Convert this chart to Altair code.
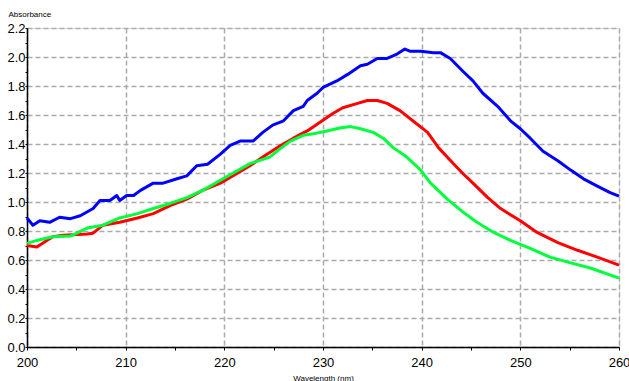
import altair as alt
import pandas as pd

blue_wl = [200.0, 200.6, 201.3, 202.3, 203.3, 204.4, 205.4, 206.7, 207.4, 208.4, 209.1, 209.4, 210.1, 210.8,
           211.5, 212.8, 213.8, 215.2, 216.2, 217.2, 218.3, 219.6, 220.6, 221.6, 222.9, 223.9, 224.9, 226.0,
           227.0, 228.0, 228.4, 229.4, 230.0, 231.4, 232.5, 233.8, 234.5, 235.5, 236.5, 237.5, 238.3, 238.8,
           239.9, 241.2, 241.9, 242.9, 244.2, 245.2, 246.2, 247.7, 249.0, 250.0, 251.0, 252.3, 253.8, 255.1,
           256.4, 257.8, 259.1, 260.0]
blue_abs = [0.89, 0.84, 0.87, 0.86, 0.895, 0.885, 0.905, 0.955, 1.01, 1.01, 1.045, 1.01, 1.045, 1.045,
            1.08, 1.13, 1.13, 1.16, 1.18, 1.25, 1.26, 1.33, 1.39, 1.42, 1.42, 1.48, 1.53, 1.56,
            1.63, 1.66, 1.70, 1.75, 1.79, 1.835, 1.88, 1.94, 1.95, 1.99, 1.99, 2.02, 2.055, 2.04,
            2.04, 2.03, 2.03, 1.99, 1.90, 1.835, 1.75, 1.66, 1.56, 1.505, 1.44, 1.35, 1.285, 1.22,
            1.16, 1.11, 1.065, 1.04]

red_wl = [200.0, 201.0, 202.6, 203.7, 206.1, 206.7, 207.7, 209.4, 211.2, 212.8, 214.5, 216.2, 217.8, 219.6,
          222.6, 223.9, 225.7, 227.0, 228.4, 229.7, 231.0, 232.0, 233.5, 234.5, 235.5, 236.5, 237.8, 239.1,
          240.6, 241.7, 243.2, 244.2, 245.2, 246.7, 248.0, 250.0, 251.7, 253.8, 255.8, 257.8, 260.0]
red_abs = [0.70, 0.69, 0.76, 0.77, 0.78, 0.785, 0.84, 0.86, 0.89, 0.92, 0.975, 1.02, 1.08, 1.13,
           1.25, 1.31, 1.39, 1.44, 1.49, 1.55, 1.61, 1.65, 1.68, 1.70, 1.70, 1.68, 1.63, 1.56,
           1.48, 1.375, 1.265, 1.195, 1.13, 1.03, 0.955, 0.87, 0.79, 0.72, 0.667, 0.62, 0.565]

green_wl = [200.0, 201.0, 202.6, 204.4, 206.1, 207.7, 209.4, 211.2, 212.8, 214.5, 216.2, 217.8, 219.6,
            222.6, 224.6, 225.7, 226.7, 228.0, 229.0, 230.4, 231.7, 232.8, 233.8, 235.1, 236.1, 237.1,
            238.5, 239.9, 240.9, 242.6, 244.2, 245.6, 247.3, 249.0, 251.0, 253.0, 255.1, 257.1, 260.0]
green_abs = [0.715, 0.735, 0.76, 0.765, 0.82, 0.84, 0.89, 0.92, 0.955, 0.99, 1.03, 1.08, 1.15,
             1.265, 1.31, 1.37, 1.42, 1.46, 1.47, 1.49, 1.51, 1.52, 1.505, 1.48, 1.44, 1.375,
             1.31, 1.22, 1.13, 1.02, 0.93, 0.86, 0.79, 0.735, 0.68, 0.62, 0.58, 0.545, 0.475]

x_ticks = list(range(200, 261, 5))
y_ticks = [round(i * 0.1, 1) for i in range(0, 23)]

def series(wl, ab, name):
    return pd.DataFrame({"wl": wl, "abs": ab, "series": name})

font = "Liberation Sans"

x_enc = alt.X("wl:Q", scale=alt.Scale(domain=[200, 260], nice=False, zero=False),
              axis=alt.Axis(values=x_ticks, title="Wavelength (nm)",
                            labelExpr="datum.value % 10 == 0 ? datum.label : ''",
                            gridOpacity={"condition": {"test": "datum.value % 10 == 0", "value": 1}, "value": 0},
                            grid=True, gridDash=[5, 3], gridColor="#ababab", gridWidth=1.5,
                            domainColor="black", domainWidth=1.5, tickColor="black", tickSize=3,
                            labelFont=font, labelFontSize=13, labelColor="black", labelPadding=6,
                            labelFlush=False,
                            titleFont=font, titleFontSize=8, titleFontWeight="normal", titleColor="black",
                            titleY=31, titleBaseline="middle"))
y_enc = alt.Y("abs:Q", scale=alt.Scale(domain=[0, 2.2], nice=False),
              axis=alt.Axis(values=y_ticks, title="Absorbance", format=".1f",
                            labelExpr="round(datum.value*10) % 2 == 0 ? datum.label : ''",
                            gridOpacity={"condition": {"test": "round(datum.value*10) % 2 == 0", "value": 1}, "value": 0},
                            grid=True, gridDash=[5, 3], gridColor="#ababab", gridWidth=1.5,
                            domainColor="black", domainWidth=1.5, tickColor="black", tickSize=2,
                            labelFont=font, labelFontSize=13, labelColor="black", labelPadding=0,
                            labelFlush=False,
                            titleFont=font, titleFontSize=8, titleFontWeight="normal", titleColor="black",
                            titleAngle=0, titleAlign="left", titleBaseline="middle", titleX=-19, titleY=-14))

def line(df, color):
    return alt.Chart(df).mark_line(color=color, strokeWidth=3, strokeJoin="round").encode(x=x_enc, y=y_enc)

chart = alt.layer(
    line(series(blue_wl, blue_abs, "blue"), "#0000ff"),
    line(series(red_wl, red_abs, "red"), "#ff0000"),
    line(series(green_wl, green_abs, "green"), "#00ff3c"),
).properties(
    width=592, height=319,
    autosize=alt.AutoSizeParams(type="none"),
    padding={"left": 27, "top": 28, "right": 10, "bottom": 34},
).configure_view(stroke=None).configure(background="white")

chart.save("out.html", embed_options={"renderer": "svg", "actions": False})
